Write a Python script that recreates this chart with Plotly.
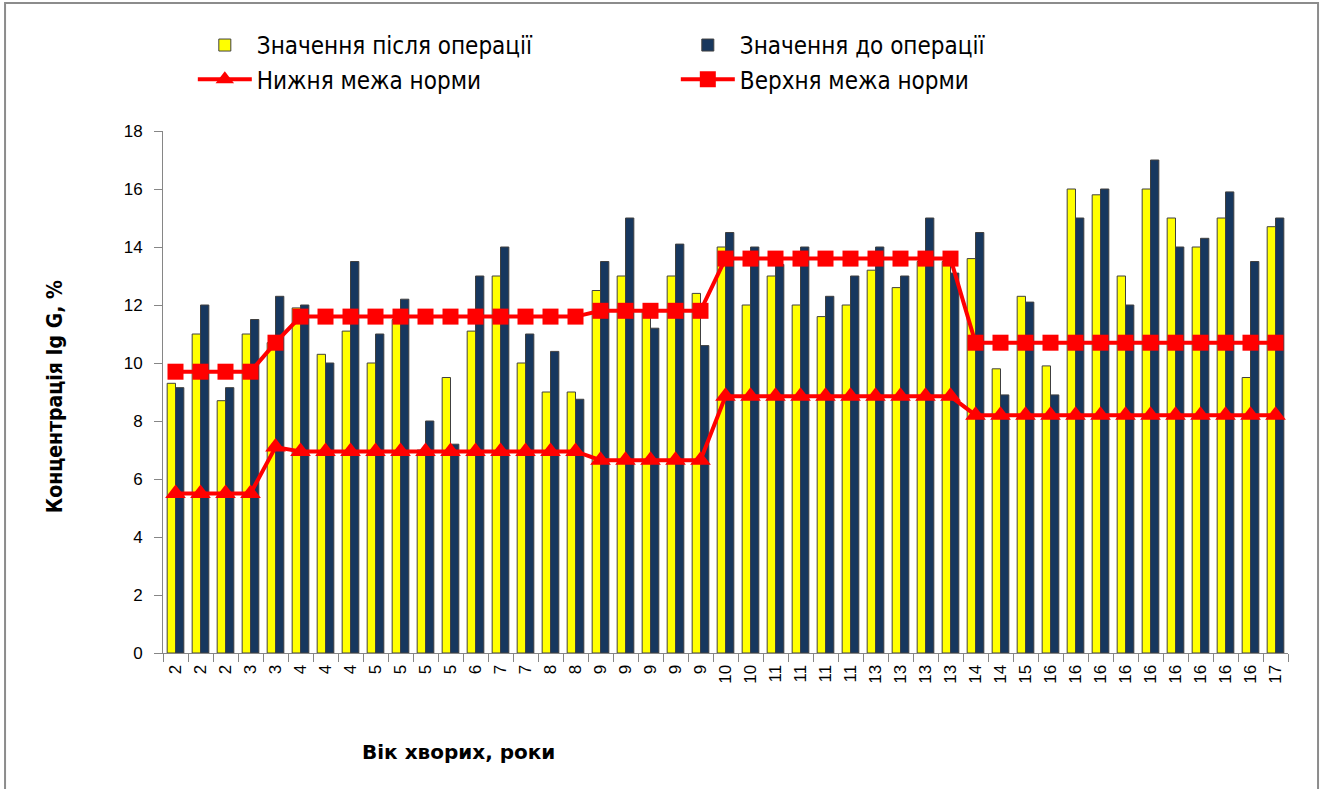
import plotly.graph_objects as go

ages = ["2", "2", "2", "3", "3", "4", "4", "4", "5", "5", "5", "5", "6", "7", "7",
        "8", "8", "9", "9", "9", "9", "9", "10", "10", "11", "11", "11", "11",
        "13", "13", "13", "13", "14", "14", "15",
        "16", "16", "16", "16", "16", "16", "16", "16", "16", "17"]

after_op = [9.3, 11.0, 8.7, 11.0, 10.7, 11.9, 10.3, 11.1, 10.0, 11.5, 7.0, 9.5, 11.1, 13.0, 10.0,
            9.0, 9.0, 12.5, 13.0, 11.8, 13.0, 12.4, 14.0, 12.0, 13.0, 12.0, 11.6, 12.0,
            13.2, 12.6, 13.5, 13.5, 13.6, 9.8, 12.3,
            9.9, 16.0, 15.8, 13.0, 16.0, 15.0, 14.0, 15.0, 9.5, 14.7]

before_op = [9.15, 12.0, 9.15, 11.5, 12.3, 12.0, 10.0, 13.5, 11.0, 12.2, 8.0, 7.2, 13.0, 14.0, 11.0,
             10.4, 8.75, 13.5, 15.0, 11.2, 14.1, 10.6, 14.5, 14.0, 13.4, 14.0, 12.3, 13.0,
             14.0, 13.0, 15.0, 13.1, 14.5, 8.9, 12.1,
             8.9, 15.0, 16.0, 12.0, 17.0, 14.0, 14.3, 15.9, 13.5, 15.0]

lower_norm = [5.5, 5.5, 5.5, 5.5, 7.1, 6.95, 6.95, 6.95, 6.95, 6.95, 6.95, 6.95, 6.95, 6.95, 6.95,
              6.95, 6.95, 6.65, 6.65, 6.65, 6.65, 6.65, 8.85, 8.85, 8.85, 8.85, 8.85, 8.85,
              8.85, 8.85, 8.85, 8.85, 8.2, 8.2, 8.2,
              8.2, 8.2, 8.2, 8.2, 8.2, 8.2, 8.2, 8.2, 8.2, 8.2]

upper_norm = [9.7, 9.7, 9.7, 9.7, 10.7, 11.6, 11.6, 11.6, 11.6, 11.6, 11.6, 11.6, 11.6, 11.6, 11.6,
              11.6, 11.6, 11.8, 11.8, 11.8, 11.8, 11.8, 13.6, 13.6, 13.6, 13.6, 13.6, 13.6,
              13.6, 13.6, 13.6, 13.6, 10.7, 10.7, 10.7,
              10.7, 10.7, 10.7, 10.7, 10.7, 10.7, 10.7, 10.7, 10.7, 10.7]

y_ticks = [0, 2, 4, 6, 8, 10, 12, 14, 16, 18]

idx = list(range(len(ages)))
FONT = "Liberation Sans Narrow, DejaVu Sans Condensed, Arial Narrow, Liberation Sans, sans-serif"
BASE = "Liberation Sans, Arial, sans-serif"

fig = go.Figure()
fig.add_trace(go.Bar(x=idx, y=after_op, name="Значення після операції",
                     marker=dict(color="#FFFF00", line=dict(color="#404040", width=1))))
fig.add_trace(go.Bar(x=idx, y=before_op, name="Значення до операції",
                     marker=dict(color="#17375E", line=dict(color="#404040", width=1))))
fig.add_trace(go.Scatter(x=idx, y=lower_norm, name="Нижня межа норми", mode="lines+markers",
                         line=dict(color="#FF0000", width=4),
                         marker=dict(symbol="triangle-up", size=18, color="#FF0000")))
fig.add_trace(go.Scatter(x=idx, y=upper_norm, name="Верхня межа норми", mode="lines+markers",
                         line=dict(color="#FF0000", width=4),
                         marker=dict(symbol="square", size=16, color="#FF0000")))

fig.update_layout(
    width=1326, height=789, autosize=False,
    margin=dict(l=163, r=38, t=131, b=136),
    paper_bgcolor="white", plot_bgcolor="white",
    barmode="group", bargap=0.333, bargroupgap=0,
    font=dict(family=BASE, color="#000000"),
    legend=dict(orientation="h", x=0.0265, y=1.207, xanchor="left", yanchor="top",
                entrywidth=414, entrywidthmode="pixels", itemwidth=54,
                font=dict(family=FONT, size=24, color="#000000"),
                traceorder="normal", bgcolor="rgba(0,0,0,0)"),
    showlegend=True,
)

fig.update_xaxes(
    range=[-0.5, len(ages) - 0.5],
    tickmode="array", tickvals=idx, ticktext=ages, tickangle=-90,
    ticks="", showgrid=False, zeroline=False, ticklabelstandoff=4,
    showline=True, linecolor="#868686", linewidth=1,
    tickfont=dict(family=BASE, size=17, color="#000000"),
    minor=dict(tickmode="array", tickvals=[i - 0.5 for i in range(len(ages) + 1)],
               ticks="outside", ticklen=8, tickcolor="#868686", tickwidth=1, showgrid=False),
)
fig.update_yaxes(
    range=[0, 18], tickmode="array", tickvals=y_ticks,
    ticks="outside", ticklen=8, tickcolor="#868686", tickwidth=1,
    showgrid=False, zeroline=False, ticklabelstandoff=8,
    showline=True, linecolor="#868686", linewidth=1,
    tickfont=dict(family=BASE, size=17, color="#000000"),
)

fig.add_annotation(text="<b>Концентрація Ig G, %</b>", xref="paper", yref="paper",
                   x=-0.096, y=0.49, xanchor="center", yanchor="middle", textangle=-90,
                   showarrow=False, font=dict(family=FONT, size=21, color="#000000"))
fig.add_annotation(text="<b>Вік хворих, роки</b>", xref="paper", yref="paper",
                   x=0.263, y=-0.19, xanchor="center", yanchor="middle",
                   showarrow=False, font=dict(family="DejaVu Sans, Verdana, sans-serif", size=20, color="#000000"))

fig.add_shape(type="rect", xref="paper", yref="paper",
              x0=-0.1404, x1=1.0267, y0=-0.27, y1=1.2452,
              line=dict(color="#8C8C8C", width=2), fillcolor="rgba(0,0,0,0)", layer="below")

fig.write_html("out.html")
